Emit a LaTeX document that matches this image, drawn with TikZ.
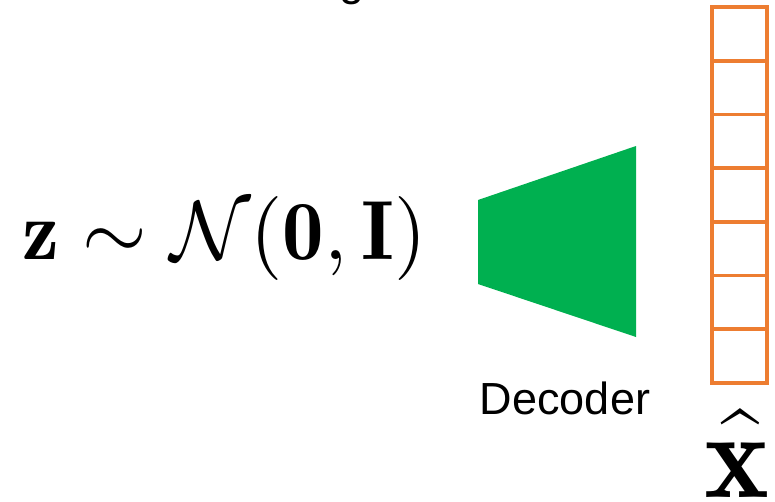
\documentclass[tikz,border=0pt]{standalone}
\usepackage{fontspec}
\newfontfamily\arialfont{Liberation Sans}
\definecolor{decgreen}{HTML}{00B050}
\definecolor{cellorange}{HTML}{ED7D31}
\tikzset{
  cellbox/.style={draw=cellorange, line width=3.8pt, minimum width=55pt, minimum height=53.71pt, inner sep=0pt},
  sanslabel/.style={font=\arialfont\fontsize{45}{50}\selectfont, inner sep=0pt, text=black}
}
\begin{document}
\begin{tikzpicture}[x=1pt,y=-1pt]
\useasboundingbox (0,0) rectangle (775,501);
\clip (0,0) rectangle (775,501);
% cut-off fragment at top
\node[sanslabel, anchor=base] (gfrag) at (352,-5) {g};
% formula
\node[anchor=base west, inner sep=0pt, xscale=8.3, yscale=8.4] (formula) at (21,259) {$\mathbf{z}\sim\mathcal{N}(\mathbf{0},\mathbf{I})$};
% decoder
\coordinate (d1) at (478,200);
\coordinate (d2) at (636,146);
\coordinate (d3) at (636,337);
\coordinate (d4) at (478,284);
\fill[decgreen] (d1) -- (d2) -- (d3) -- (d4) -- cycle;
\node[sanslabel, anchor=base] (declabel) at (565,414) {Decoder};
% output vector
\foreach \i in {0,...,6} {
  \node[cellbox] (cell\i) at (739.5, {7+53.71*(\i+0.5)}) {};
}
\node[anchor=base, inner sep=0pt, scale=12.3] (xvec) at (737,497) {$\mathbf{x}$};
\node[anchor=north, inner sep=0pt, xscale=6.8, yscale=9] (hat) at (740,407) {$\mathchar"705E$};
\end{tikzpicture}
\end{document}
